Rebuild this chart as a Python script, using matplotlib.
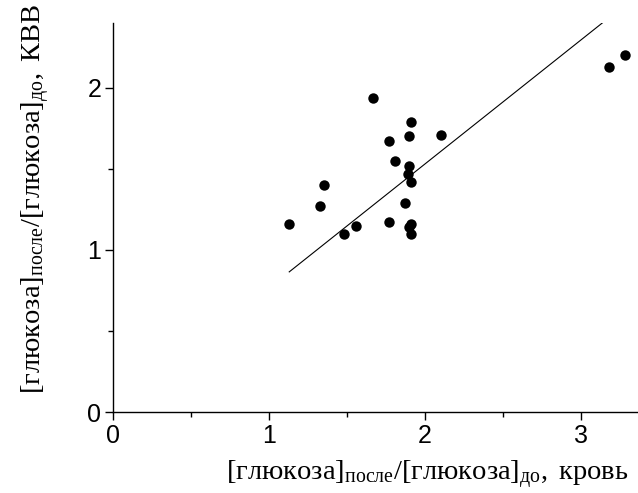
import matplotlib
matplotlib.use('Agg')
import matplotlib.pyplot as plt
import numpy as np

plt.rcParams['mathtext.fontset'] = 'custom'
plt.rcParams['mathtext.rm'] = 'Liberation Serif'
plt.rcParams['mathtext.it'] = 'Liberation Serif:italic'
plt.rcParams['mathtext.bf'] = 'Liberation Serif:bold'


# glucose ratio after/before: blood (x) vs KVV (y)
blood = [1.13, 1.33, 1.35, 1.48, 1.56, 1.67, 1.77, 1.77, 1.81, 1.87,
         1.91, 1.90, 2.10, 1.90, 1.89, 1.91, 1.91, 1.90, 1.91, 3.18, 3.28]
kvv = [1.16, 1.27, 1.40, 1.10, 1.15, 1.94, 1.67, 1.17, 1.55, 1.29,
       1.79, 1.70, 1.71, 1.52, 1.47, 1.42, 1.16, 1.14, 1.10, 2.13, 2.20]

# fitted line
fit_slope = 0.765
fit_intercept = 0.0

xticks = [0, 1, 2, 3]
yticks = [0, 1, 2]

xlabel = r'$\mathrm{[глюкоза]_{\mathrm{после}}/[глюкоза]_{\mathrm{до}},\ кровь}$'
ylabel = r'$\mathrm{[глюкоза]_{\mathrm{после}}/[глюкоза]_{\mathrm{до}},\ КВВ}$'


fig = plt.figure(figsize=(6.38, 4.93), dpi=100)
ax = fig.add_axes([113 / 638, 81 / 493, 524 / 638, 389 / 493])

ax.scatter(blood, kvv, s=7.5 ** 2, color='black', zorder=3, linewidths=0)

fx = np.array([min(blood), max(blood)])
ax.plot(fx, fit_slope * fx + fit_intercept, color='black', lw=0.8)

ax.set_xlim(0, 3.36)
ax.set_ylim(0, 2.40)

for s in ['top', 'right']:
    ax.spines[s].set_visible(False)
for s in ['left', 'bottom']:
    ax.spines[s].set_linewidth(1.0)

ax.set_xticks(xticks)
ax.set_yticks(yticks)
ax.set_xticks([0.5, 1.5, 2.5], minor=True)
ax.set_yticks([0.5, 1.5], minor=True)
ax.tick_params(which='major', direction='out', length=5.5, width=1.0, pad=3)
ax.tick_params(which='minor', direction='out', length=3.5, width=1.0)
for lab in ax.get_xticklabels() + ax.get_yticklabels():
    lab.set_fontfamily('Liberation Sans')
    lab.set_fontsize(18)

fig.text(427 / 638, 13 / 493, xlabel, ha='center', va='baseline',
         fontsize=20.5)
fig.text(36 / 638, 1 - 199 / 493, ylabel, ha='center', va='center',
         rotation=90, fontsize=20.5)

fig.savefig('out.png', dpi=100)
